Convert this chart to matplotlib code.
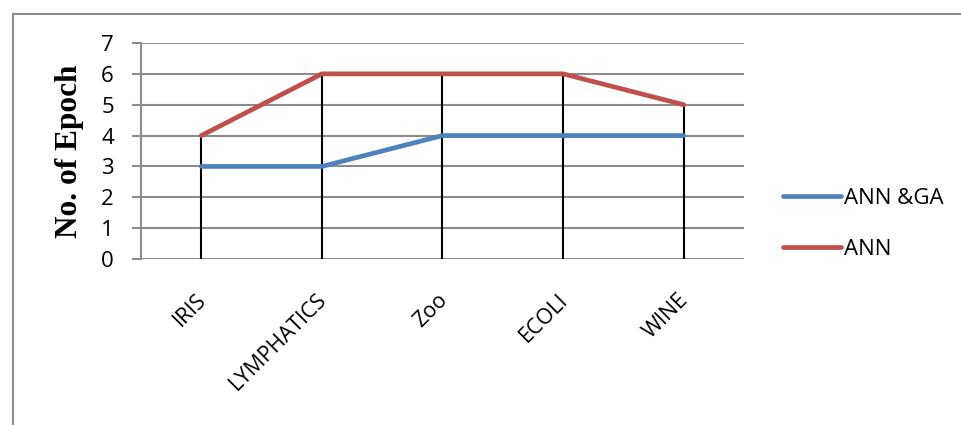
import numpy as np
import matplotlib.pyplot as plt
import matplotlib.transforms as mtransforms
from matplotlib.lines import Line2D

datasets = ["IRIS", "LYMPHATICS", "Zoo", "ECOLI", "WINE"]
ann_ga = [3, 3, 4, 4, 4]
ann = [4, 6, 6, 6, 5]
series_names = ["ANN &GA", "ANN"]

blue = "#4F81BD"
red = "#C0504D"

plt.rcParams['font.family'] = ['Open Sans', 'DejaVu Sans']

fig = plt.figure(figsize=(9.62, 4.25), dpi=100)
ax = fig.add_axes([141/962, 166/425, 603/962, 216/425])

x = np.arange(len(datasets)) + 0.5

# drop lines from the top point down to zero
tops = np.maximum(ann, ann_ga)
ax.vlines(x, 0, tops, color='black', lw=1.5, zorder=2)

ax.plot(x, ann_ga, color=blue, lw=3.4, solid_capstyle='round', zorder=3)
ax.plot(x, ann, color=red, lw=3.4, solid_capstyle='round', zorder=3)

ax.set_xlim(0, len(datasets))
ax.set_ylim(0, 7)
ax.set_yticks(range(0, 8))
ax.yaxis.grid(True, color='#8c8c8c', lw=1.5)
ax.set_axisbelow(True)
for s in ['top', 'right', 'bottom']:
    ax.spines[s].set_visible(False)
ax.spines['left'].set_color('#8c8c8c')
ax.spines['left'].set_linewidth(1.5)
ax.tick_params(axis='y', length=6.5, color='#8c8c8c', width=1.5, labelsize=16, pad=13)
ax.tick_params(axis='x', length=0, labelsize=15.5, pad=22)
ax.set_xticks(x)
ax.set_xticklabels(datasets, rotation=45, ha='right', va='top', rotation_mode='anchor')
shift = mtransforms.ScaledTranslation(-6/100, 0, fig.dpi_scale_trans)
for lab in ax.get_xticklabels():
    lab.set_transform(lab.get_transform() + shift)

ax.set_ylabel("No. of Epoch", family='Liberation Serif', fontweight='bold', fontsize=22.5, labelpad=12)

handles = [Line2D([], [], color=blue, lw=3.4, solid_capstyle='round'),
           Line2D([], [], color=red, lw=3.4, solid_capstyle='round')]
fig.legend(handles, series_names, loc='center left', bbox_to_anchor=(763/962, 1 - 224/425),
           frameon=False, fontsize=16, handlelength=2.6, handletextpad=0.15, labelspacing=1.35)

# outer frame of the chart
fig.add_artist(Line2D([13/962, 13/962], [0, 1 - 14/425], transform=fig.transFigure, color='#8c8c8c', lw=1.5))
fig.add_artist(Line2D([13/962, 1], [1 - 14/425, 1 - 14/425], transform=fig.transFigure, color='#8c8c8c', lw=1.5))

fig.savefig("out.png", dpi=100)
